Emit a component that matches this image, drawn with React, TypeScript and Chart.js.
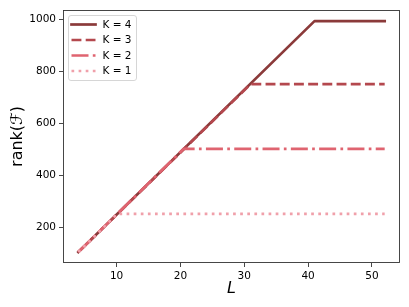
import React, { useEffect, useRef } from "react";
import { Chart, registerables } from "chart.js";

Chart.register(...registerables);

// Data
const seriesLabels = ["K = 1", "K = 2", "K = 3", "K = 4"];
const k1X = [4, 10.1, 52];
const k1Y = [105, 252, 252];
const k2X = [4, 20.5, 52];
const k2Y = [105, 502, 502];
const k3X = [4, 31, 52];
const k3Y = [105, 751, 751];
const k4X = [4, 41, 52];
const k4Y = [105, 993, 993];
const xTicks = [10, 20, 30, 40, 50];
const yTicks = [200, 400, 600, 800, 1000];

const colors = ["#f0a0aa", "#df6470", "#b4484e", "#8b3a3a"];
const dashes = [[2.7, 4.4], [17, 4.3, 2.7, 4.3], [9.9, 4.3], []];

const pts = (xs: number[], ys: number[]) => xs.map((x, i) => ({ x, y: ys[i] }));

const FONT = "DejaVu Sans";

const framePlugin = {
  id: "frameAndLegend",
  afterDraw(chart: any) {
    const { ctx, chartArea } = chart;
    ctx.save();
    // frame
    ctx.strokeStyle = "#333";
    ctx.lineWidth = 0.9;
    const l = Math.round(chartArea.left) + 0.5;
    const t = Math.round(chartArea.top) + 0.5;
    const r = Math.round(chartArea.right) - 0.5;
    const b = Math.round(chartArea.bottom) - 0.5;
    ctx.strokeRect(l, t, r - l, b - t);

    // axis titles
    ctx.fillStyle = "#000";
    ctx.textAlign = "center";
    ctx.textBaseline = "middle";
    ctx.font = `italic 16px ${FONT}`;
    ctx.fillText("L", (chartArea.left + chartArea.right) / 2, 289);
    ctx.save();
    ctx.translate(18, (chartArea.top + chartArea.bottom) / 2);
    ctx.rotate(-Math.PI / 2);
    ctx.font = `16px ${FONT}`;
    ctx.fillText("rank(\u2131)", 0, 0);
    ctx.restore();

    // legend
    const lx = chartArea.left + 5.5;
    const ly = chartArea.top + 5.5;
    const lw = 68;
    const lh = 65;
    ctx.beginPath();
    const rad = 2.5;
    ctx.moveTo(lx + rad, ly);
    ctx.lineTo(lx + lw - rad, ly);
    ctx.quadraticCurveTo(lx + lw, ly, lx + lw, ly + rad);
    ctx.lineTo(lx + lw, ly + lh - rad);
    ctx.quadraticCurveTo(lx + lw, ly + lh, lx + lw - rad, ly + lh);
    ctx.lineTo(lx + rad, ly + lh);
    ctx.quadraticCurveTo(lx, ly + lh, lx, ly + lh - rad);
    ctx.lineTo(lx, ly + rad);
    ctx.quadraticCurveTo(lx, ly, lx + rad, ly);
    ctx.closePath();
    ctx.fillStyle = "rgba(255,255,255,0.8)";
    ctx.fill();
    ctx.strokeStyle = "#d6d6d6";
    ctx.lineWidth = 1;
    ctx.stroke();

    const ds = chart.data.datasets;
    const order = [3, 2, 1, 0];
    order.forEach((di: number, row: number) => {
      const d = ds[di];
      const y = ly + 9 + row * 15.5;
      ctx.beginPath();
      ctx.setLineDash(d.borderDash || []);
      ctx.lineCap = d.borderCapStyle || "butt";
      ctx.strokeStyle = d.borderColor;
      ctx.lineWidth = d.borderWidth;
      ctx.moveTo(lx + 3, y);
      ctx.lineTo(lx + 27, y);
      ctx.stroke();
      ctx.setLineDash([]);
      ctx.fillStyle = "#000";
      ctx.textAlign = "left";
      ctx.textBaseline = "middle";
      ctx.font = `10.5px ${FONT}`;
      ctx.fillText(d.label, lx + 34, y + 0.5);
    });
    ctx.restore();
  },
};

export default function App() {
  const ref = useRef<HTMLCanvasElement>(null);
  useEffect(() => {
    if (!ref.current) return;
    const xsList = [k1X, k2X, k3X, k4X];
    const ysList = [k1Y, k2Y, k3Y, k4Y];
    const chart = new Chart(ref.current, {
      type: "line",
      data: {
        datasets: seriesLabels.map((label, i) => ({
          label,
          data: pts(xsList[i], ysList[i]),
          borderColor: colors[i],
          backgroundColor: colors[i],
          borderWidth: 2.7,
          borderDash: dashes[i],
          borderCapStyle: i === 3 ? "square" : "butt",
          borderJoinStyle: "round",
          pointRadius: 0,
          pointHoverRadius: 0,
          fill: false,
          tension: 0,
        })),
      },
      options: {
        animation: false,
        responsive: true,
        maintainAspectRatio: false,
        events: [],
        layout: { padding: { top: 10, right: 9, left: 0, bottom: 0 } },
        plugins: { legend: { display: false }, tooltip: { enabled: false } },
        scales: {
          x: {
            type: "linear",
            min: 1.6,
            max: 54.4,
            afterBuildTicks: (s: any) => {
              s.ticks = xTicks.map((v) => ({ value: v }));
            },
            afterFit: (s: any) => {
              s.height = 44;
            },
            grid: { display: true, drawOnChartArea: false, drawTicks: true, tickLength: 4, tickColor: "#333", tickWidth: 0.9 },
            border: { display: false },
            ticks: { color: "#000", padding: 3, maxRotation: 0, font: { family: FONT, size: 10.5 }, callback: (v: any) => String(v) },
          },
          y: {
            type: "linear",
            min: 63,
            max: 1035.7,
            afterBuildTicks: (s: any) => {
              s.ticks = yTicks.map((v) => ({ value: v }));
            },
            afterFit: (s: any) => {
              s.width = 63;
            },
            grid: { display: true, drawOnChartArea: false, drawTicks: true, tickLength: 4, tickColor: "#333", tickWidth: 0.9 },
            border: { display: false },
            ticks: { color: "#000", padding: 3, font: { family: FONT, size: 10.5 }, callback: (v: any) => String(v) },
          },
        },
      },
      plugins: [framePlugin],
    } as any);
    return () => chart.destroy();
  }, []);
  return (
    <div style={{ position: "fixed", left: 0, top: 0, width: 409, height: 307, background: "#fff" }}>
      <canvas ref={ref} />
    </div>
  );
}
